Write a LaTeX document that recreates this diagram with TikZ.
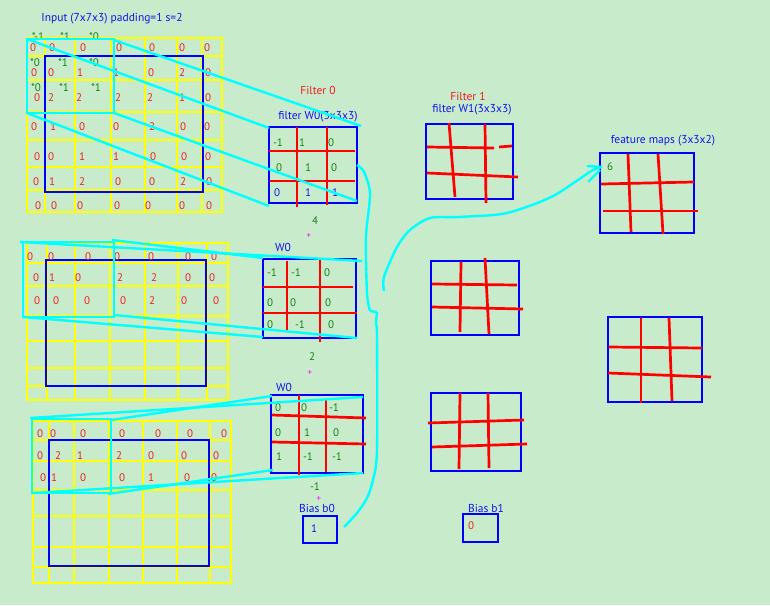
\documentclass[tikz,border=0pt]{standalone}
\usepackage{fontspec}
\setmainfont{PT Sans}
\definecolor{bg}{RGB}{200,235,204}
\definecolor{ylw}{RGB}{255,255,0}
\definecolor{blu}{RGB}{0,0,255}
\definecolor{rd}{RGB}{255,0,0}
\definecolor{cy}{RGB}{0,255,255}
\definecolor{gr}{RGB}{20,130,20}
\definecolor{tblue}{RGB}{20,20,230}
\definecolor{trd}{RGB}{240,30,30}
\definecolor{mag}{RGB}{255,0,255}
\newcommand\mynumrow[4]{\foreach \myx/\myv [count=\myi] in {#4} \node[#3] (#1-\myi) at (\myx,#2) {\myv};}
\begin{document}
\begin{tikzpicture}[x=1pt,y=-1pt,
  ygrid/.style={draw=ylw,line width=2.8pt,line cap=rect},
  bbox/.style={draw=blu,line width=2.8pt},
  rline/.style={draw=rd,line width=2.7pt},
  cline/.style={draw=cy,line width=2.4pt},
  rnum/.style={text=trd,font=\fontsize{11}{13}\selectfont,inner sep=0pt},
  gnum/.style={text=gr,font=\fontsize{11}{13}\selectfont,inner sep=0pt},
  bnum/.style={text=tblue,font=\fontsize{11}{13}\selectfont,inner sep=0pt},
  lbl/.style={font=\fontsize{11.5}{13}\selectfont,inner sep=0pt},
  plus/.style={text=mag,font=\fontsize{9}{10}\selectfont,inner sep=0pt}]
\fill[bg] (0,0) rectangle (770,605);
\useasboundingbox (0,0) rectangle (770,605);

% ---------- input grid 1
\foreach \gx in {27,45,75,111,145,177,202,222} \draw[ygrid] (\gx,38) -- (\gx,212);
\foreach \gy in {38,56,80,112,140,167,190,212} \draw[ygrid] (27,\gy) -- (222,\gy);
\draw[bbox] (45,56) rectangle (203,192);
\mynumrow{ga0}{48}{rnum}{33/0,52/0,83/0,119/0,152/0,182/0,207/0}
\mynumrow{ga1}{73}{rnum}{34/0,51/0,80/1,116/1,151/0,182/2,208/0}
\mynumrow{ga2}{98}{rnum}{37/0,51/2,79/2,118/2,150/2,182/1,208/0}
\mynumrow{ga3}{127}{rnum}{34/0,53/1,82/0,116/0,152/2,183/0,207/0}
\mynumrow{ga4}{157}{rnum}{37/0,51/0,82/1,116/1,153/0,184/0,208/0}
\mynumrow{ga5}{182}{rnum}{36/0,52/1,82/2,118/0,152/0,183/2,209/0}
\mynumrow{ga6}{206}{rnum}{38/0,54/0,80/0,117/0,148/0,182/0,209/0}
\mynumrow{wa0}{37}{gnum}{38/*-1,65/*1,94/*0}
\mynumrow{wa1}{63}{gnum}{35/*0,63/*1,94/*0}
\mynumrow{wa2}{88}{gnum}{36/*0,64/*1,96/*1}
\node[lbl,text=tblue] (inlbl) at (112,19) {Input (7x7x3) padding=1 s=2};

% ---------- input grid 2
\foreach \gx in {27,47,75,110,145,178,207,228} \draw[ygrid] (\gx,243) -- (\gx,400);
\foreach \gy in {243,263,286,316,341,368,386,400} \draw[ygrid] (27,\gy) -- (228,\gy);
\draw[bbox] (46,260) rectangle (206,386);
\mynumrow{gb0}{257}{rnum}{30/0,51/0,88/0,117/0,151/0,188/0,214/0}
\mynumrow{gb1}{278}{rnum}{36/0,52/1,78/0,120/2,154/2,188/0,212/0}
\mynumrow{gb2}{301}{rnum}{37/0,56/0,87/0,123/0,152/2,184/0,216/0}

% ---------- input grid 3
\foreach \gx in {33,49,74,109,143,177,210,231} \draw[ygrid] (\gx,421) -- (\gx,583);
\foreach \gy in {421,440,461,490,516,547,567,583} \draw[ygrid] (33,\gy) -- (231,\gy);
\draw[bbox] (49,440) rectangle (209,566);
\mynumrow{gc0}{434}{rnum}{40/0,53/0,83/0,122/0,158/0,190/0,224/0}
\mynumrow{gc1}{456}{rnum}{40/0,58/2,80/1,119/2,151/0,184/0,216/0}
\mynumrow{gc2}{478}{rnum}{43/0,54/1,83/0,122/0,151/1,187/0,214/0}

% ---------- filter W0 (three slices)
\node[lbl,text=trd] (f0) at (318,90) {Filter 0};
\node[lbl,text=tblue] (f0w) at (318,117) {filter W0(3x3x3)};
\draw[bbox] (269,127) rectangle (357,203);
\draw[rline] (297,127) -- (297,207);
\draw[rline] (327,127) -- (327,205);
\draw[rline] (269,151) -- (355,151);
\draw[rline] (270,181) -- (355,181);
\mynumrow{wA0}{143}{gnum}{278/-1,302/1,331/0}
\mynumrow{wA1}{168}{gnum}{279/0,308/1,334/0}
\mynumrow{wA2}{193}{bnum}{277/0,308/1,335/1}
\node[gnum] (s4) at (315,221) {4};
\node[plus] (p1) at (309,236) {+};

\node[lbl,text=tblue] (w0b) at (283,247) {W0};
\draw[bbox] (263,259) rectangle (356,338);
\draw[rline] (287,261) -- (287,331);
\draw[rline] (320,260) -- (320,342);
\draw[rline] (263,287) -- (353,287);
\draw[rline] (263,313) -- (357,313);
\mynumrow{wB0}{273}{gnum}{272/-1,296/-1,327/0}
\mynumrow{wB1}{303}{gnum}{270/0,293/0,328/0}
\mynumrow{wB2}{325}{gnum}{270/0,300/-1,331/0}
\node[gnum] (s2) at (312,357) {2};
\node[plus] (p2) at (310,373) {+};

\node[lbl,text=tblue] (w0c) at (284,387) {W0};
\draw[bbox] (271,395) rectangle (363,473);
\draw[rline] (299,395) -- (299,475);
\draw[rline] (326,398) -- (326,472);
\draw[rline] (272,415) -- (366,418);
\draw[rline] (272,442) -- (366,444);
\mynumrow{wC0}{408}{gnum}{278/0,304/0,334/-1}
\mynumrow{wC1}{433}{gnum}{278/0,307/1,336/0}
\mynumrow{wC2}{457}{gnum}{279/1,308/-1,337/-1}
\node[gnum] (sm1) at (315,487) {-1};
\node[plus] (p3) at (319,498.5) {+};
\node[lbl,text=tblue] (b0l) at (317,508) {Bias b0};
\draw[bbox] (303,516) rectangle (337,543);
\node[bnum] (b0v) at (314,529) {1};

% ---------- filter W1
\node[lbl,text=trd] (f1) at (468,96) {Filter 1};
\node[lbl,text=tblue] (f1w) at (472,110) {filter W1(3x3x3)};
\draw[bbox] (426,124) rectangle (513,199);
\draw[rline] (449,123) -- (455,197);
\draw[rline] (485,124) -- (486,203);
\draw[rline] (427,147) -- (494,148);
\draw[rline] (499,147) -- (512,146);
\draw[rline] (427,173) -- (518,177);

\draw[bbox] (431,261) rectangle (519,335);
\draw[rline] (461,262) -- (460,332);
\draw[rline] (485,258) -- (489,334);
\draw[rline] (432,284) -- (517,285);
\draw[rline] (432,307) -- (523,309);

\draw[bbox] (431,393) rectangle (521,471);
\draw[rline] (460,393) -- (459,469);
\draw[rline] (488,393) -- (489,468);
\draw[rline] (428,423) -- (524,420);
\draw[rline] (432,447) -- (527,444);

\node[lbl,text=tblue] (b1l) at (486,508) {Bias b1};
\draw[bbox] (463,514) rectangle (498,542);
\node[rnum] (b1v) at (471,526) {0};

% ---------- feature maps
\node[lbl,text=tblue] (fm) at (663,141) {feature maps (3x3x2)};
\draw[bbox] (600,153) rectangle (694,233);
\draw[rline] (628,154) -- (631,232);
\draw[rline] (658,154) -- (663,234);
\draw[rline] (601,184) -- (694,182);
\draw[rline] (603,211) -- (698,211);
\node[gnum] (six) at (610,167) {6};

\draw[bbox] (608,317) rectangle (702,402);
\draw[rline] (641,318) -- (641,403);
\draw[rline] (669,318) -- (672,401);
\draw[rline] (609,347) -- (702,348);
\draw[rline] (608,373) -- (711,377);

% ---------- cyan receptive fields and connectors
\coordinate (c1tl) at (27,39);  \coordinate (c1tr) at (114,40);
\coordinate (c1bl) at (27,113); \coordinate (c1br) at (114,113);
\draw[cline] (c1tl) rectangle (c1br);
\coordinate (k1tl) at (269,128); \coordinate (k1tr) at (361,126);
\coordinate (k1bl) at (269,206); \coordinate (k1br) at (357,201);
\draw[cline] (c1tl) -- (k1tl);
\draw[cline] (c1tr) -- (k1tr);
\draw[cline] (c1bl) -- (k1bl);
\draw[cline] (c1br) -- (k1br);

\coordinate (c2tl) at (20,242);  \coordinate (c2tr) at (112,240);
\coordinate (c2bl) at (23,317);  \coordinate (c2br) at (114,315);
\draw[cline] (23,242) rectangle (114,317);
\coordinate (k2tl) at (263,258); \coordinate (k2tr) at (362,261);
\coordinate (k2bl) at (263,337); \coordinate (k2br) at (357,338);
\draw[cline] (c2tl) -- (k2tr);
\draw[cline] (c2tr) -- (k2tl);
\draw[cline] (c2bl) -- (k2bl);
\draw[cline] (c2br) -- (k2br);

\coordinate (c3tl) at (30,418);  \coordinate (c3tr) at (111,420);
\coordinate (c3bl) at (33,493);  \coordinate (c3br) at (108,494);
\draw[cline] (32,419) rectangle (111,493);
\coordinate (k3tl) at (272,396); \coordinate (k3tr) at (363,397);
\coordinate (k3bl) at (273,470); \coordinate (k3br) at (363,473);
\draw[cline] (c3tl) -- (k3tr);
\draw[cline] (c3tr) -- (k3tl);
\draw[cline] (c3bl) -- (k3br);
\draw[cline] (c3br) -- (k3bl);

% sum curve
\draw[cline] plot[smooth,tension=0.5] coordinates {(357,165) (364,172) (370,194) (366,237) (367,293) (370,311)};
\draw[cline] (370,311) -- (377,312);
\draw[cline] plot[smooth,tension=0.5] coordinates {(377,312) (376,324) (377,337) (377,450) (373,480) (367,498) (357,513) (344,527)};

% arrow to feature map
\coordinate (tip) at (602,167);
\draw[cline] plot[smooth,tension=0.5] coordinates {(384,291) (384,277) (397,247) (410,230) (430,218) (458,217) (502,214) (532,205) (555,195) (575,182) (593,170) (602,167)};
\draw[cline] (587,166) -- (tip);
\draw[cline] (588,182) -- (600,170);
\end{tikzpicture}
\end{document}
